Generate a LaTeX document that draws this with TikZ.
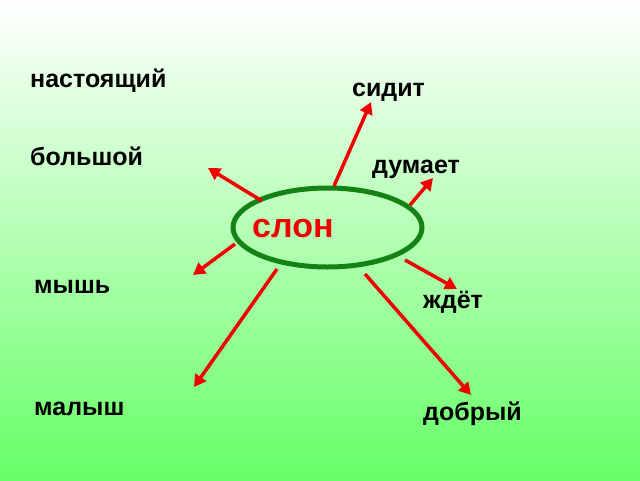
\documentclass[tikz,border=0pt]{standalone}
\usepackage{fontspec}
\setmainfont{Liberation Sans}
\usetikzlibrary{arrows.meta,shapes.geometric}
\definecolor{bgtop}{RGB}{255,255,255}
\definecolor{bgbot}{RGB}{102,255,102}
\definecolor{ringgreen}{RGB}{20,130,20}
\definecolor{arrowred}{RGB}{240,0,0}
\tikzset{
  word/.style={anchor=base west, inner sep=0pt, font=\fontsize{25}{29}\selectfont\bfseries, text=black},
  ray/.style={draw=arrowred, line width=3.5pt, -{Triangle[length=12pt,width=13pt]}},
}
\begin{document}
\begin{tikzpicture}[x=1pt,y=-1pt]
\useasboundingbox (0,0) rectangle (640,480);
\shade[top color=bgtop, bottom color=bgbot] (0,0) rectangle (640,480);
% centre
\node[draw=ringgreen, line width=5pt, ellipse, minimum width=189pt, minimum height=79pt, inner sep=0pt] (ell) at (327.5,227.5) {};
\node[anchor=base west, inner sep=0pt, font=\fontsize{34}{39}\selectfont\bfseries, text=arrowred] (slon) at (252,237) {слон};
% words
\node[word] (w1) at (30,87) {настоящий};
\node[word] (w2) at (352,96) {сидит};
\node[word] (w3) at (30,165) {большой};
\node[word] (w4) at (372,173) {думает};
\node[word] (w5) at (34,293) {мышь};
\node[word] (w6) at (423,308) {ждёт};
\node[word] (w7) at (34,415) {малыш};
\node[word] (w8) at (423,420) {добрый};
% arrow ends
\coordinate (t1) at (262,201); \coordinate (h1) at (208,168);
\coordinate (t2) at (334,186); \coordinate (h2) at (371,102);
\coordinate (t3) at (410,205); \coordinate (h3) at (433,178);
\coordinate (t4) at (235,244); \coordinate (h4) at (193,275);
\coordinate (t5) at (405,260); \coordinate (h5) at (457,289);
\coordinate (t6) at (277,269); \coordinate (h6) at (194,387);
\coordinate (t7) at (365,274); \coordinate (h7) at (471,395);
\foreach \i in {1,...,7}{\draw[ray] (t\i) -- (h\i);}
\end{tikzpicture}
\end{document}
